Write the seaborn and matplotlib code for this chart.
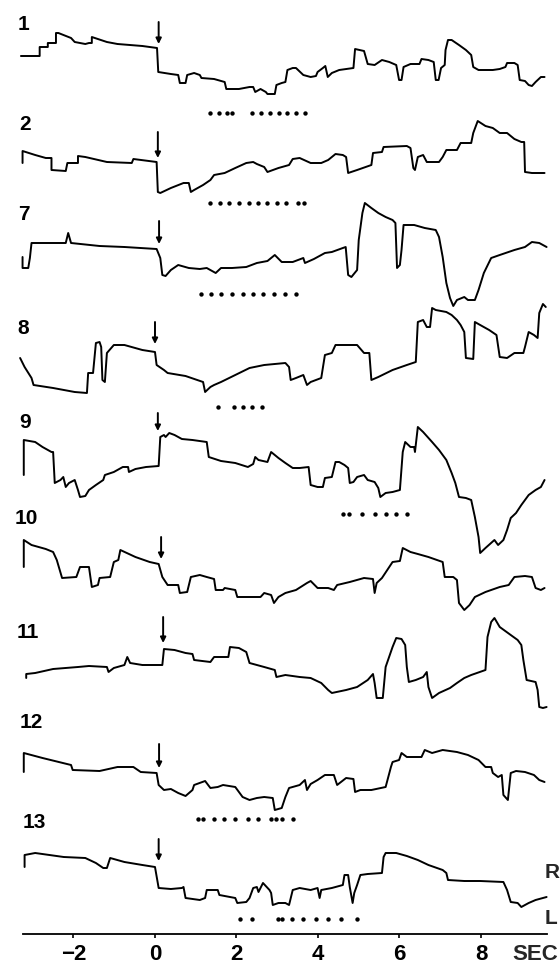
import matplotlib
matplotlib.use("Agg")
import matplotlib.pyplot as plt
import seaborn as sns
import pandas as pd

# ---------------- data (time in s, pen position in arbitrary units, downward positive) -------------
TRACE_1 = [(-3.29,56),(-2.89,56),(-2.83,56),(-2.83,47),(-2.68,47),(-2.63,47),(-2.63,43),(-2.50,43),(-2.43,43),(-2.43,33),
           (-2.37,33),(-2.06,38),(-1.97,42),(-1.71,44),(-1.62,43),(-1.55,43),(-1.55,37),(-1.18,42),(-0.92,44),(-0.31,46),
           (0.05,48),(0.08,72),(0.39,74),(0.57,75),(0.61,83),(0.75,83),(0.79,75),(0.96,73),(1.10,75),(1.14,78),(1.45,79),
           (1.71,82),(1.75,89),(2.06,89),(2.32,87),(2.41,87),(2.46,92),(2.59,89),(2.72,92),(2.76,94),(2.94,94),(2.98,85),
           (3.11,83),(3.20,82),(3.25,70),(3.38,68),(3.46,68),(3.64,75),(3.82,77),(3.95,76),(3.99,72),(4.12,68),(4.18,66),
           (4.24,77),(4.34,73),(4.52,70),(4.87,68),(4.91,49),(5.13,51),(5.22,64),(5.39,65),(5.57,60),(5.75,62),(5.92,65),
           (5.99,80),(6.05,80),(6.10,67),(6.27,64),(6.49,64),(6.54,59),(6.71,60),(6.84,62),(6.89,80),(6.96,80),(7.02,68),
           (7.11,65),(7.13,50),(7.19,40),(7.28,40),(7.46,45),(7.63,50),(7.76,55),(7.81,67),(7.94,70),(8.29,70),(8.46,69),
           (8.60,67),(8.64,63),(8.82,63),(8.90,65),(8.95,80),(9.08,81),(9.17,85),(9.25,86),(9.34,82),(9.47,77),(9.56,77)]
TRACE_2 = [(-3.25,163),(-3.25,151),(-2.94,155),(-2.68,158),(-2.54,158),(-2.54,170),(-2.19,171),(-2.15,163),(-1.97,163),
           (-1.89,163),(-1.89,156),(-1.71,157),(-1.18,162),(-0.57,163),(-0.53,159),(0.04,162),(0.07,192),(0.13,193),
           (0.39,188),(0.70,183),(0.83,183),(0.88,192),(0.96,190),(1.18,185),(1.36,180),(1.45,175),(1.71,173),(1.97,168),
           (2.24,163),(2.41,162),(2.50,164),(2.68,167),(2.76,172),(3.03,168),(3.29,165),(3.38,159),(3.55,158),(3.82,163),
           (4.08,163),(4.25,160),(4.43,154),(4.61,155),(4.69,157),(4.74,173),(4.96,170),(5.31,165),(5.35,153),(5.57,152),
           (5.61,147),(6.18,146),(6.27,148),(6.34,168),(6.38,170),(6.45,157),(6.58,155),(6.67,162),(6.97,162),(7.06,157),
           (7.15,150),(7.41,150),(7.50,143),(7.76,143),(7.81,133),(7.92,121),(8.11,126),(8.29,128),(8.46,133),(8.64,133),
           (8.82,139),(8.99,142),(9.06,142),(9.08,172),(9.25,173),(9.56,173)]
TRACE_7 = [(-3.25,257),(-3.25,268),(-3.11,268),(-3.07,258),(-3.03,243),(-2.19,243),(-2.13,233),(-2.06,243),(-1.36,246),
           (-0.75,247),(0.04,249),(0.13,258),(0.18,275),(0.26,276),(0.39,270),(0.57,265),(0.83,268),(1.10,269),(1.27,268),
           (1.49,273),(1.62,268),(1.89,268),(2.24,267),(2.50,263),(2.76,261),(2.94,255),(3.11,262),(3.38,262),(3.64,258),
           (3.68,263),(3.90,259),(4.17,253),(4.34,252),(4.61,248),(4.68,247),(4.74,275),(4.82,277),(4.96,270),(5.00,240),
           (5.09,213),(5.15,203),(5.31,208),(5.48,213),(5.66,217),(5.83,220),(5.90,223),(5.94,268),(6.01,265),(6.05,250),
           (6.10,225),(6.36,225),(6.62,228),(6.89,230),(6.97,237),(7.06,257),(7.15,283),(7.24,298),(7.32,306),(7.41,300),
           (7.59,297),(7.68,300),(7.85,300),(7.94,290),(8.07,273),(8.25,258),(8.46,255),(8.82,250),(9.08,247),(9.25,242),
           (9.43,243),(9.61,247)]
TRACE_8 = [(-3.31,358),(-3.20,367),(-3.03,378),(-2.98,385),(-2.50,388),(-1.97,392),(-1.67,393),(-1.64,373),(-1.52,373),
           (-1.45,343),(-1.36,342),(-1.32,347),(-1.29,380),(-1.23,382),(-1.18,353),(-1.01,345),(-0.75,345),(-0.31,350),
           (0.0,352),(0.04,365),(0.22,370),(0.31,373),(0.75,376),(1.18,382),(1.23,392),(1.36,387),(1.45,385),(1.62,382),
           (1.97,375),(2.32,368),(2.68,365),(3.20,363),(3.29,367),(3.33,380),(3.46,378),(3.64,375),(3.73,385),(3.82,382),
           (4.08,378),(4.17,355),(4.34,353),(4.43,345),(4.96,345),(5.13,353),(5.26,353),(5.31,380),(5.48,377),(5.83,370),
           (6.18,365),(6.40,362),(6.45,322),(6.58,320),(6.67,327),(6.75,327),(6.80,308),(6.89,310),(7.15,312),(7.28,315),
           (7.41,320),(7.50,325),(7.59,332),(7.63,358),(7.81,359),(7.85,322),(7.98,325),(8.20,330),(8.38,335),(8.46,357),
           (8.64,358),(8.82,353),(9.04,353),(9.08,347),(9.17,332),(9.30,335),(9.39,338),(9.43,313),(9.52,304),(9.59,307)]
TRACE_9 = [(-3.22,475),(-3.22,440),(-2.94,442),(-2.76,447),(-2.54,452),(-2.50,452),(-2.46,483),(-2.32,480),(-2.25,477),
           (-2.19,487),(-2.11,483),(-1.97,480),(-1.89,490),(-1.84,497),(-1.71,496),(-1.62,490),(-1.45,485),(-1.27,480),
           (-1.23,475),(-1.01,472),(-0.79,467),(-0.66,467),(-0.64,472),(-0.48,469),(-0.22,467),(0.09,466),(0.13,437),
           (0.22,435),(0.26,437),(0.35,433),(0.48,435),(0.66,439),(0.92,440),(1.27,442),(1.32,457),(1.62,461),(1.97,463),
           (2.28,467),(2.41,464),(2.46,457),(2.54,460),(2.76,462),(2.85,452),(3.03,458),(3.20,463),(3.38,468),(3.55,468),
           (3.77,467),(3.82,485),(3.99,487),(4.12,487),(4.17,478),(4.34,477),(4.43,462),(4.52,462),(4.65,465),(4.74,468),
           (4.78,483),(4.87,482),(4.96,477),(5.13,475),(5.22,480),(5.39,482),(5.48,488),(5.53,497),(5.66,493),(5.83,492),
           (6.01,490),(6.08,452),(6.14,442),(6.27,447),(6.36,447),(6.38,452),(6.45,427),(6.58,432),(6.80,442),(6.97,450),
           (7.15,460),(7.28,473),(7.37,483),(7.46,497),(7.63,498),(7.76,500),(7.85,517),(7.94,537),(7.98,553),(8.11,548),
           (8.33,540),(8.42,545),(8.55,540),(8.64,530),(8.73,518),(8.86,513),(8.99,505),(9.17,495),(9.34,490),(9.47,487),
           (9.56,480)]
TRACE_10 = [(-3.22,567),(-3.22,540),(-3.03,545),(-2.68,549),(-2.50,552),(-2.41,560),(-2.28,578),(-1.93,577),(-1.84,567),
            (-1.62,567),(-1.55,587),(-1.40,585),(-1.36,578),(-1.10,577),(-1.01,562),(-0.90,560),(-0.85,550),(-0.48,557),
            (-0.13,562),(0.09,564),(0.18,577),(0.31,585),(0.57,585),(0.61,593),(0.79,592),(0.88,577),(1.10,575),(1.27,577),
            (1.45,579),(1.49,590),(1.67,590),(1.71,588),(1.97,590),(2.02,597),(2.32,597),(2.59,597),(2.68,593),(2.85,595),
            (2.92,603),(3.03,597),(3.20,593),(3.46,590),(3.73,583),(3.82,581),(3.99,588),(4.25,588),(4.39,590),(4.47,585),
            (4.78,582),(5.13,578),(5.35,579),(5.39,593),(5.44,583),(5.57,578),(5.70,570),(5.83,562),(6.01,561),(6.08,548),
            (6.27,552),(6.45,554),(6.71,557),(7.06,562),(7.11,577),(7.32,577),(7.41,580),(7.46,603),(7.59,610),(7.72,605),
            (7.85,597),(8.11,592),(8.46,587),(8.68,585),(8.82,577),(9.08,576),(9.25,577),(9.34,588),(9.47,590),(9.56,588)]
TRACE_11 = [(-3.16,678),(-3.16,674),(-2.94,673),(-2.50,669),(-1.89,667),(-1.62,666),(-1.18,667),(-1.14,672),(-1.01,668),
            (-0.75,665),(-0.68,657),(-0.61,663),(-0.31,665),(0.18,665),(0.22,649),(0.48,650),(0.75,653),(0.92,654),
            (0.96,660),(1.36,662),(1.45,657),(1.80,657),(1.84,647),(2.06,648),(2.24,652),(2.32,663),(2.68,667),(2.94,670),
            (2.98,677),(3.20,675),(3.55,677),(3.82,678),(4.08,683),(4.25,690),(4.34,693),(4.69,690),(4.96,687),(5.22,680),
            (5.35,674),(5.39,683),(5.44,698),(5.59,698),(5.66,667),(5.83,647),(5.92,638),(6.05,639),(6.14,645),(6.18,667),
            (6.23,682),(6.40,680),(6.58,677),(6.67,672),(6.71,687),(6.80,698),(6.97,693),(7.24,688),(7.41,683),(7.59,678),
            (7.76,675),(8.11,670),(8.16,637),(8.25,622),(8.33,618),(8.46,627),(8.73,635),(8.90,640),(8.99,645),(9.04,660),
            (9.12,680),(9.34,682),(9.39,690),(9.43,707),(9.52,708),(9.61,707)]
TRACE_12 = [(-3.22,772),(-3.22,753),(-2.76,758),(-2.06,765),(-2.02,770),(-1.36,771),(-0.92,767),(-0.53,767),(-0.35,772),
            (0.04,773),(0.09,785),(0.22,790),(0.39,789),(0.57,793),(0.75,796),(0.92,790),(0.96,785),(1.23,781),(1.36,788),
            (1.54,787),(1.67,785),(1.97,787),(2.15,797),(2.32,800),(2.50,798),(2.68,797),(2.89,798),(2.94,810),(3.11,808),
            (3.20,797),(3.29,788),(3.55,785),(3.68,780),(3.73,790),(3.82,784),(3.99,780),(4.17,775),(4.39,775),(4.47,785),
            (4.69,778),(4.87,779),(4.91,792),(5.04,790),(5.31,790),(5.66,787),(5.79,767),(5.83,762),(5.99,760),(6.05,753),
            (6.18,757),(6.54,757),(6.62,750),(6.80,753),(7.06,750),(7.41,752),(7.68,755),(7.94,760),(8.11,767),(8.25,767),
            (8.29,773),(8.42,777),(8.51,775),(8.55,795),(8.66,800),(8.73,773),(8.86,771),(9.08,772),(9.30,775),(9.43,780),
            (9.56,782)]
TRACE_13 = [(-3.20,867),(-3.20,855),(-2.94,853),(-2.24,857),(-1.71,858),(-1.45,863),(-1.27,868),(-1.18,868),(-1.10,858),
            (-0.75,862),(-0.31,865),(0.0,867),(0.09,888),(0.39,889),(0.66,888),(0.70,887),(0.75,898),(1.10,900),(1.23,898),
            (1.27,890),(1.54,890),(1.58,895),(1.84,897),(1.97,898),(2.02,903),(2.24,902),(2.32,898),(2.41,888),(2.50,887),
            (2.54,892),(2.65,883),(2.81,890),(2.85,893),(2.89,905),(3.03,903),(3.20,903),(3.29,905),(3.38,890),(3.55,888),
            (3.82,890),(3.99,888),(4.04,898),(4.08,890),(4.34,888),(4.61,885),(4.65,875),(4.74,875),(4.78,887),(4.85,903),
            (4.89,893),(4.96,885),(5.04,875),(5.22,874),(5.57,873),(5.61,857),(5.66,853),(5.92,853),(6.18,856),(6.45,860),
            (6.71,865),(7.06,870),(7.15,873),(7.19,880),(7.59,881),(7.98,881),(8.55,882),(8.64,890),(8.73,902),(8.90,903),
            (8.99,907),(9.17,903),(9.34,900),(9.61,897)]

TRACE_NAMES = ["1", "2", "7", "8", "9", "10", "11", "12", "13"]
TRACES = [TRACE_1, TRACE_2, TRACE_7, TRACE_8, TRACE_9, TRACE_10, TRACE_11, TRACE_12, TRACE_13]

# dotted response markers (times) and their levels
DOTS_1 = [1.36, 1.56, 1.76, 1.89, 2.39, 2.60, 2.82, 3.04, 3.25, 3.47, 3.68]
DOTS_2 = [1.36, 1.60, 1.82, 2.06, 2.30, 2.52, 2.76, 3.00, 3.22, 3.51, 3.66]
DOTS_7 = [1.12, 1.38, 1.63, 1.89, 2.15, 2.40, 2.66, 2.92, 3.18, 3.45]
DOTS_8 = [1.55, 1.93, 2.15, 2.37, 2.63]
DOTS_9 = [4.61, 4.76, 5.09, 5.39, 5.66, 5.92, 6.18]
DOTS_12 = [1.05, 1.17, 1.45, 1.69, 1.97, 2.28, 2.54, 2.85, 2.96, 3.11, 3.38]
DOTS_13 = [2.08, 2.37, 3.03, 3.11, 3.36, 3.64, 3.95, 4.25, 4.56, 4.96]
DOT_SETS = [DOTS_1, DOTS_2, DOTS_7, DOTS_8, DOTS_9, DOTS_12, DOTS_13]
DOT_LEVELS = [113, 203, 294, 407, 514, 819, 919]

# stimulus arrows: time, tail, head
ARROW_T = [0.09, 0.07, 0.10, 0.00, 0.07, 0.15, 0.20, 0.10, 0.09]
ARROW_TAIL = [22, 132, 221, 322, 413, 537, 617, 744, 839]
ARROW_HEAD = [44, 158, 244, 344, 431, 559, 643, 768, 861]

LABEL_LEVELS = [25, 124, 215, 328, 423, 519, 632, 722, 822]
LABEL_T = [-3.36, -3.33, -3.37, -3.37, -3.33, -3.45, -3.40, -3.31, -3.25]

X_TICKS = [-2, 0, 2, 4, 6, 8]

# ---------------- drawing ----------------
sns.set_theme(style="white")
plt.rcParams["font.family"] = ["Liberation Sans", "DejaVu Sans"]

W, H = 560, 965
fig = plt.figure(figsize=(W / 100, H / 100), dpi=100)
fig.patch.set_facecolor("white")
ax = fig.add_axes([23 / W, (H - 934) / H, 524 / W, 934 / H])
ax.set_facecolor("white")

rows = []
for name, tr in zip(TRACE_NAMES, TRACES):
    for i, (t, y) in enumerate(tr):
        rows.append({"trace": name, "t": t, "pos": y, "i": i})
df = pd.DataFrame(rows)

for name in TRACE_NAMES:
    sub = df[df["trace"] == name]
    sns.lineplot(data=sub, x="t", y="pos", sort=False, estimator=None,
                 color="black", linewidth=1.4, ax=ax, clip_on=False)

for ts, lvl in zip(DOT_SETS, DOT_LEVELS):
    sns.scatterplot(x=ts, y=[lvl] * len(ts), color="black", s=10, linewidth=0,
                    ax=ax, clip_on=False)

for t, a, b in zip(ARROW_T, ARROW_TAIL, ARROW_HEAD):
    ax.annotate("", xy=(t, b), xytext=(t, a),
                arrowprops=dict(arrowstyle="-|>", color="black", lw=1.4,
                                mutation_scale=8, shrinkA=0, shrinkB=0),
                annotation_clip=False)

for name, t, y in zip(TRACE_NAMES, LABEL_T, LABEL_LEVELS):
    ax.text(t, y, name, fontsize=15, fontweight="bold", ha="left", va="center", color="black")

ax.set_xlim(-3.239, 9.620)
ax.set_ylim(934, 0)
for s in ["top", "left", "right"]:
    ax.spines[s].set_visible(False)
ax.spines["bottom"].set_color("black")
ax.spines["bottom"].set_linewidth(1.3)
ax.set_xticks(X_TICKS)
ax.set_xticklabels(["\u22122", "0", "2", "4", "6", "8"], fontweight="bold")
ax.tick_params(axis="x", direction="out", length=3, width=1.2, color="black",
               labelsize=16, pad=4, labelcolor="black", bottom=True)
ax.set_yticks([])
ax.set_xlabel("")
ax.set_ylabel("")

ax.text(9.33, 955, "SEC", fontsize=16, fontweight="bold", ha="center", va="center", clip_on=False)
ax.text(9.56, 873, "R", fontsize=15, fontweight="bold", ha="left", va="center", clip_on=False)
ax.text(9.56, 918, "L", fontsize=15, fontweight="bold", ha="left", va="center", clip_on=False)

fig.savefig("out.png", dpi=100, facecolor="white")
